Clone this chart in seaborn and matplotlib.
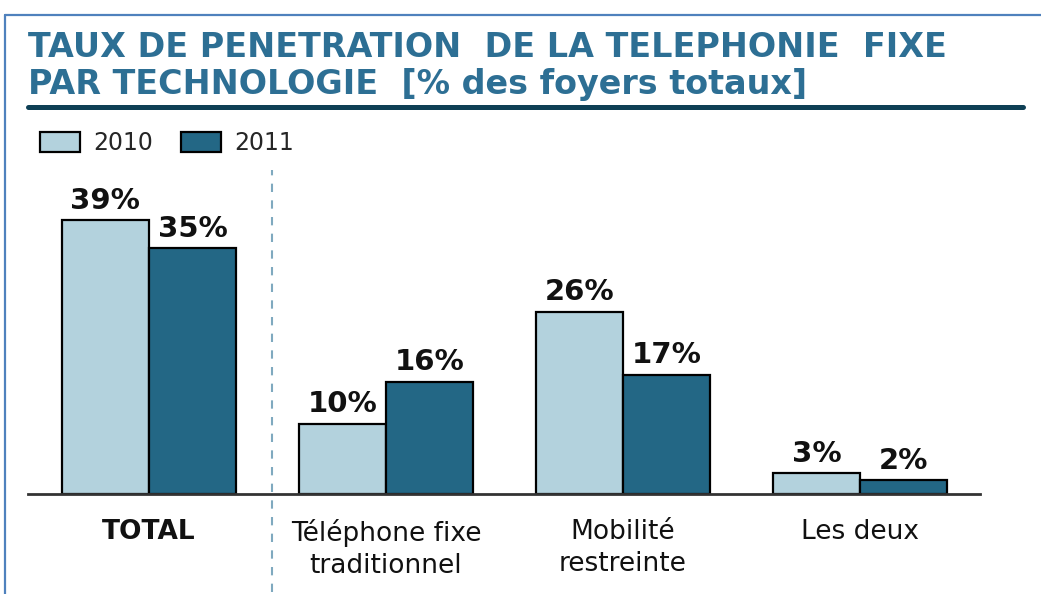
import pandas as pd
import matplotlib.pyplot as plt
import seaborn as sns
from matplotlib.patches import Patch
from matplotlib.lines import Line2D

categories = ["TOTAL", "Téléphone fixe\ntraditionnel", "Mobilité\nrestreinte", "Les deux"]
years = ["2010", "2011"]
values_2010 = [39, 10, 26, 3]
values_2011 = [35, 16, 17, 2]

title = "TAUX DE PENETRATION  DE LA TELEPHONIE  FIXE\nPAR TECHNOLOGIE  [% des foyers totaux]"
colors = {"2010": "#b3d2dd", "2011": "#236785"}


def build_frame():
    rows = []
    for cat, v in zip(categories, values_2010):
        rows.append({"cat": cat, "year": "2010", "val": v})
    for cat, v in zip(categories, values_2011):
        rows.append({"cat": cat, "year": "2011", "val": v})
    return pd.DataFrame(rows)


def plot_penetration(df):
    sns.set_style("white")
    plt.rcParams['font.family'] = ['DejaVu Sans']
    fig = plt.figure(figsize=(10.41, 5.94), dpi=100)
    ax = fig.add_axes([0.0269, 0.168, 0.9145, 0.532])

    sns.barplot(data=df, x="cat", y="val", hue="year", palette=colors,
                order=categories, hue_order=years, width=0.734, gap=0,
                saturation=1, edgecolor="black", linewidth=1.6, legend=False, ax=ax)

    ax.set_xlim(-0.51, 3.506)
    ax.set_ylim(0, 45)
    ax.set_xlabel("")
    ax.set_ylabel("")
    ax.set_yticks([])
    for s in ["top", "right", "left"]:
        ax.spines[s].set_visible(False)
    ax.spines["bottom"].set_color("#333333")
    ax.spines["bottom"].set_linewidth(2)

    ax.tick_params(axis="x", length=0, pad=18)
    for lab in ax.get_xticklabels():
        lab.set_fontsize(19)
        lab.set_color("#111111")
        lab.set_linespacing(1.3)
        if lab.get_text() == "TOTAL":
            lab.set_fontweight("bold")

    for cont in ax.containers:
        ax.bar_label(cont, labels=[f"{int(v)}%" for v in cont.datavalues],
                     padding=4, fontsize=21, fontweight="bold", color="#111111")

    # separator between total and detail
    ax.axvline(0.52, ymin=-0.31, ymax=1.025, color="#7fa9bf", lw=1.5,
               ls=(0, (4, 4)), clip_on=False)

    handles = [Patch(facecolor=colors[y], edgecolor="black", linewidth=1.6, label=y)
               for y in years]
    fig.legend(handles=handles, loc="upper left", bbox_to_anchor=(40 / 1041, 1 - 131 / 594),
               ncol=2, frameon=False, fontsize=17, handlelength=1.7, handleheight=0.95,
               handletextpad=0.55, columnspacing=1.2, borderpad=0, borderaxespad=0)

    fig.text(28 / 1041, 1 - 31 / 594, title, ha="left", va="top", fontsize=24,
             fontweight="bold", color="#2d6f94", linespacing=1.15)

    # rule under the title and the frame
    fig.add_artist(Line2D([28 / 1041, 1023 / 1041], [1 - 107 / 594] * 2,
                          color="#0e3f55", lw=3.6))
    fig.add_artist(Line2D([5 / 1041, 1], [1 - 15 / 594] * 2, color="#4f81bd", lw=1.6))
    fig.add_artist(Line2D([5 / 1041] * 2, [0, 1 - 15 / 594], color="#4f81bd", lw=1.6))

    plt.savefig("out.png", dpi=100)


if __name__ == "__main__":
    df = build_frame()
    plot_penetration(df)
